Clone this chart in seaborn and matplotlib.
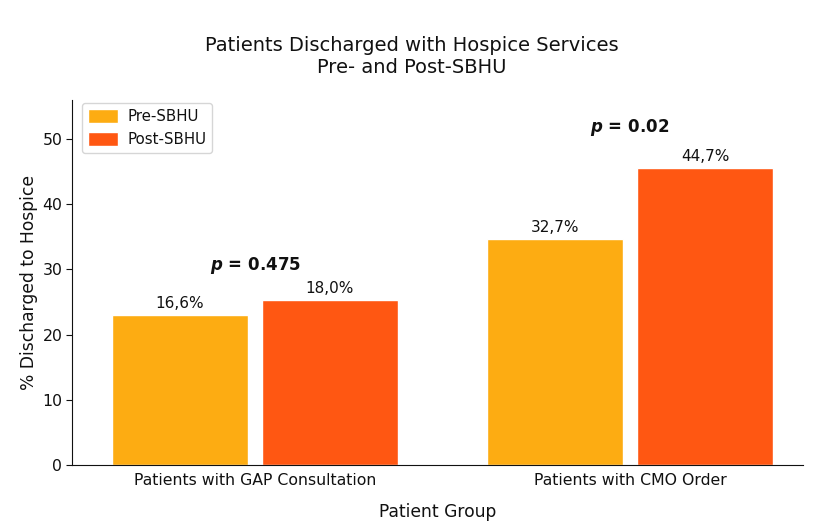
import matplotlib
matplotlib.use("Agg")
import matplotlib.pyplot as plt
import seaborn as sns
import pandas as pd

groups = ["Patients with GAP Consultation", "Patients with CMO Order"]
periods = ["Pre-SBHU", "Post-SBHU"]
pre_values = [23.0, 34.6]
post_values = [25.3, 45.6]
pre_labels = ["16,6%", "32,7%"]
post_labels = ["18,0%", "44,7%"]
p_values = ["0.475", "0.02"]
colors = ["#FDAC12", "#FF5712"]

df = pd.DataFrame({
    "Patient Group": groups * 2,
    "Period": [periods[0]] * 2 + [periods[1]] * 2,
    "Value": pre_values + post_values,
})

sns.set_style("white")
plt.rcParams["font.family"] = ["DejaVu Sans"]
plt.rcParams["text.color"] = "#111111"
plt.rcParams["axes.labelcolor"] = "#111111"
plt.rcParams["xtick.color"] = "#111111"
plt.rcParams["ytick.color"] = "#111111"
plt.rcParams["axes.edgecolor"] = "#111111"

fig = plt.figure(figsize=(8.23, 5.23), dpi=100)
ax = fig.add_axes([0.0875, 0.111, 0.888, 0.698])
sns.barplot(data=df, x="Patient Group", y="Value", hue="Period",
            palette=colors, width=0.8, gap=0.09, ax=ax, errorbar=None,
            saturation=1)

labels_by_hue = [pre_labels, post_labels]
for cont, labs in zip(ax.containers, labels_by_hue):
    ax.bar_label(cont, labels=labs, padding=3, fontsize=11)

p_offsets = [5.3, 6.2]
for i, pv in enumerate(p_values):
    top = max(pre_values[i], post_values[i])
    ax.text(i, top + p_offsets[i], r"$\boldsymbol{p}$ = " + pv, ha="center",
            va="center", fontsize=12, fontweight="bold")

ax.set_xlim(-0.488, 1.461)
ax.set_ylim(0, 56)
ax.set_yticks([0, 10, 20, 30, 40, 50])
ax.tick_params(axis="x", labelsize=11.3, bottom=False, pad=2)
ax.tick_params(axis="y", labelsize=11.3, length=4, left=True, pad=3)
ax.set_xlabel("Patient Group", fontsize=12.3, labelpad=11)
ax.set_ylabel("% Discharged to Hospice", fontsize=12.3, labelpad=3)
sns.despine(ax=ax)
ax.legend(loc="upper left", bbox_to_anchor=(0.0137, 0.992), borderaxespad=0,
          fontsize=10.8, frameon=True, handlelength=2.0, handleheight=1.1,
          handletextpad=0.6)
fig.suptitle("Patients Discharged with Hospice Services\nPre- and Post-SBHU",
             fontsize=14, y=0.932)
fig.savefig("out.png", dpi=100)
